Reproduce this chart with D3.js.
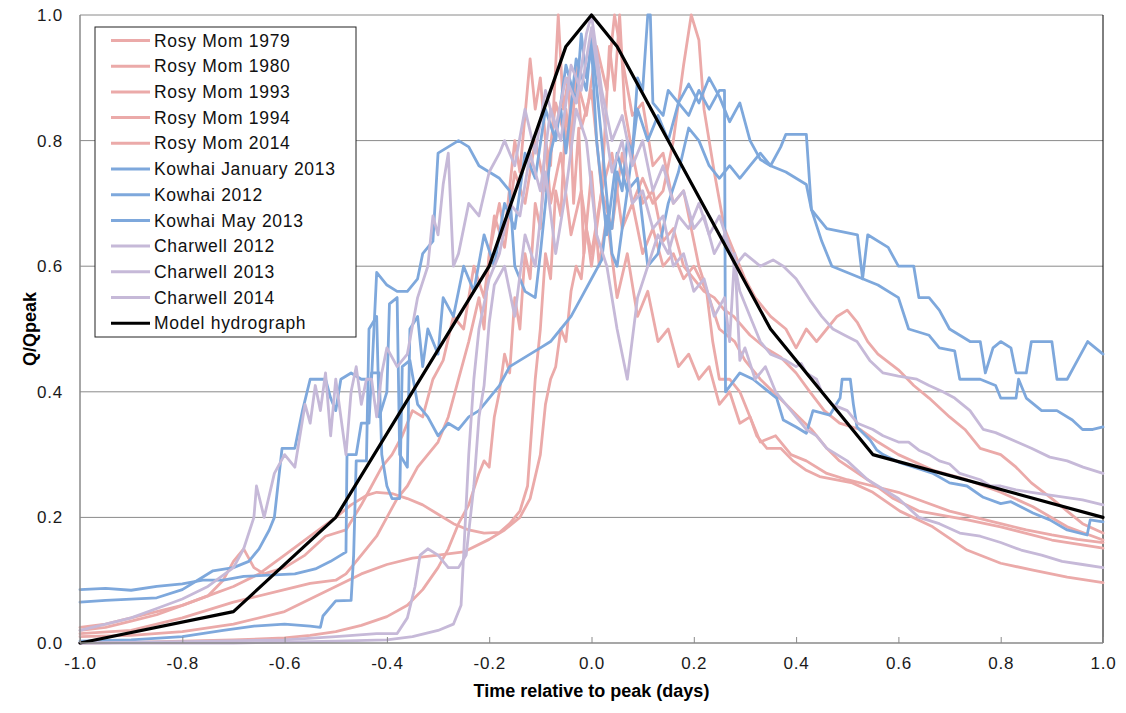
<!DOCTYPE html>
<html>
  <head>
    <meta charset="utf-8" />
    <style>
      body { margin: 0; background: #fff; }
      text { font-family: "Liberation Sans", Arial, sans-serif; }
      .series { fill: none; stroke-linejoin: round; stroke-linecap: round; }
      .grid line { stroke: #8a8a8a; stroke-width: 1; }
    </style>
  </head>
  <body>
    <svg width="1126" height="713"></svg>
    <script src="https://cdn.jsdelivr.net/npm/d3@7"></script>
    <script>
      // ticks
      var xTicks = [-1.0, -0.8, -0.6, -0.4, -0.2, 0.0, 0.2, 0.4, 0.6, 0.8, 1.0];
      var yTicks = [0.0, 0.2, 0.4, 0.6, 0.8, 1.0];

      // Rosy Mom events  [time (days), Q/Qpeak]
      var rosyMom1979 = [[-1,0.02],[-0.95,0.025],[-0.9,0.035],[-0.85,0.045],[-0.8,0.06],[-0.75,0.075],[-0.7,0.09],[-0.65,0.11],[-0.6,0.14],[-0.55,0.17],[-0.5,0.2],[-0.47,0.22],[-0.44,0.235],[-0.42,0.24],[-0.39,0.238],[-0.36,0.23],[-0.33,0.22],[-0.3,0.205],[-0.27,0.19],[-0.24,0.18],[-0.21,0.175],[-0.18,0.176],[-0.16,0.19],[-0.14,0.21],[-0.125,0.25],[-0.11,0.42],[-0.1,0.5],[-0.09,0.62],[-0.08,0.58],[-0.07,0.72],[-0.06,0.68],[-0.05,0.85],[-0.04,0.78],[-0.03,0.92],[-0.02,0.82],[0.0,0.88],[0.02,0.72],[0.04,0.78],[0.06,0.66],[0.08,0.7],[0.1,0.62],[0.12,0.66],[0.14,0.6],[0.16,0.62],[0.18,0.58],[0.2,0.6],[0.225,0.56],[0.237,0.48],[0.25,0.42],[0.27,0.42],[0.29,0.4],[0.31,0.36],[0.323,0.33],[0.343,0.31],[0.37,0.31],[0.394,0.29],[0.42,0.275],[0.446,0.265],[0.51,0.255],[0.55,0.24],[0.603,0.21],[0.667,0.185],[0.734,0.148],[0.8,0.127],[0.863,0.116],[0.93,0.105],[1.0,0.096]];
      var rosyMom1980 = [[-1,0.0],[-0.9,0.001],[-0.8,0.003],[-0.7,0.005],[-0.6,0.008],[-0.55,0.012],[-0.5,0.018],[-0.45,0.028],[-0.4,0.042],[-0.36,0.06],[-0.33,0.085],[-0.3,0.12],[-0.28,0.15],[-0.26,0.19],[-0.24,0.22],[-0.22,0.27],[-0.21,0.29],[-0.2,0.28],[-0.19,0.36],[-0.18,0.4],[-0.17,0.46],[-0.16,0.43],[-0.15,0.55],[-0.14,0.5],[-0.13,0.62],[-0.12,0.58],[-0.11,0.7],[-0.1,0.66],[-0.09,0.8],[-0.08,0.76],[-0.07,0.92],[-0.065,1.0],[-0.055,0.85],[-0.045,0.9],[-0.035,0.7],[-0.025,0.82],[-0.015,0.62],[0.0,0.75],[0.015,0.6],[0.03,0.68],[0.05,0.55],[0.07,0.62],[0.09,0.52],[0.11,0.56],[0.13,0.48],[0.15,0.5],[0.17,0.44],[0.19,0.46],[0.21,0.42],[0.23,0.44],[0.25,0.38],[0.27,0.4],[0.29,0.35],[0.31,0.36],[0.33,0.32],[0.36,0.33],[0.39,0.3],[0.42,0.29],[0.46,0.27],[0.5,0.26],[0.55,0.25],[0.6,0.24],[0.65,0.225],[0.7,0.21],[0.75,0.2],[0.8,0.19],[0.85,0.18],[0.9,0.172],[0.95,0.165],[1.0,0.16]];
      var rosyMom1993 = [[-1,0.01],[-0.9,0.012],[-0.8,0.018],[-0.7,0.03],[-0.6,0.05],[-0.55,0.07],[-0.5,0.09],[-0.45,0.11],[-0.4,0.125],[-0.35,0.135],[-0.3,0.14],[-0.25,0.145],[-0.2,0.165],[-0.17,0.18],[-0.14,0.2],[-0.12,0.23],[-0.1,0.3],[-0.09,0.38],[-0.08,0.42],[-0.07,0.44],[-0.06,0.5],[-0.05,0.48],[-0.04,0.56],[-0.03,0.6],[-0.02,0.58],[-0.01,0.66],[0.0,0.62],[0.02,0.72],[0.04,0.66],[0.06,0.78],[0.08,0.7],[0.1,0.74],[0.12,0.7],[0.14,0.72],[0.16,0.8],[0.18,0.92],[0.195,1.0],[0.21,0.96],[0.22,0.85],[0.24,0.75],[0.26,0.66],[0.28,0.62],[0.3,0.58],[0.32,0.55],[0.35,0.52],[0.38,0.5],[0.4,0.47],[0.42,0.5],[0.44,0.48],[0.46,0.5],[0.48,0.52],[0.5,0.53],[0.52,0.51],[0.54,0.48],[0.56,0.46],[0.6,0.435],[0.63,0.41],[0.66,0.39],[0.7,0.36],[0.73,0.34],[0.76,0.31],[0.8,0.3],[0.83,0.28],[0.86,0.255],[0.9,0.23],[0.93,0.21],[0.96,0.19],[1.0,0.175]];
      var rosyMom1994 = [[-1,0.025],[-0.95,0.03],[-0.9,0.04],[-0.85,0.05],[-0.8,0.06],[-0.75,0.075],[-0.72,0.1],[-0.7,0.13],[-0.68,0.15],[-0.66,0.12],[-0.64,0.11],[-0.6,0.12],[-0.56,0.14],[-0.52,0.17],[-0.48,0.18],[-0.45,0.22],[-0.43,0.25],[-0.41,0.28],[-0.39,0.3],[-0.37,0.33],[-0.35,0.37],[-0.33,0.36],[-0.31,0.42],[-0.29,0.45],[-0.27,0.52],[-0.25,0.5],[-0.23,0.6],[-0.21,0.55],[-0.19,0.68],[-0.17,0.63],[-0.15,0.75],[-0.13,0.7],[-0.11,0.8],[-0.09,0.72],[-0.07,0.86],[-0.05,0.8],[-0.03,0.9],[-0.01,0.84],[0.01,0.95],[0.03,0.88],[0.045,1.0],[0.06,0.93],[0.08,0.84],[0.1,0.86],[0.12,0.76],[0.14,0.78],[0.16,0.7],[0.18,0.72],[0.2,0.64],[0.21,0.6],[0.23,0.55],[0.25,0.5],[0.28,0.48],[0.3,0.45],[0.33,0.42],[0.355,0.4],[0.38,0.38],[0.405,0.36],[0.43,0.34],[0.46,0.31],[0.485,0.29],[0.54,0.26],[0.59,0.23],[0.64,0.21],[0.735,0.196],[0.8,0.185],[0.9,0.164],[1.0,0.151]];
      var rosyMom2014 = [[-1,0.015],[-0.9,0.02],[-0.8,0.04],[-0.7,0.065],[-0.6,0.085],[-0.55,0.095],[-0.5,0.1],[-0.48,0.11],[-0.45,0.14],[-0.42,0.17],[-0.4,0.2],[-0.38,0.23],[-0.36,0.25],[-0.34,0.28],[-0.32,0.3],[-0.3,0.32],[-0.28,0.36],[-0.26,0.42],[-0.24,0.48],[-0.22,0.55],[-0.21,0.5],[-0.2,0.62],[-0.18,0.7],[-0.17,0.65],[-0.15,0.8],[-0.14,0.75],[-0.12,0.93],[-0.11,0.85],[-0.1,0.9],[-0.08,0.7],[-0.06,0.78],[-0.04,0.65],[-0.02,0.72],[0.0,0.6],[0.02,0.72],[0.035,0.95],[0.045,0.88],[0.055,1.0],[0.065,0.85],[0.08,0.78],[0.1,0.7],[0.12,0.72],[0.14,0.64],[0.16,0.66],[0.18,0.6],[0.2,0.58],[0.22,0.56],[0.24,0.55],[0.26,0.53],[0.278,0.52],[0.31,0.49],[0.34,0.47],[0.37,0.455],[0.4,0.43],[0.427,0.4],[0.455,0.37],[0.485,0.35],[0.525,0.34],[0.56,0.32],[0.6,0.3],[0.668,0.275],[0.734,0.26],[0.8,0.24],[0.863,0.217],[0.93,0.185],[1.0,0.164]];

      // Kowhai events
      var kowhaiJan2013 = [[-1,0.085],[-0.95,0.087],[-0.9,0.084],[-0.85,0.09],[-0.8,0.094],[-0.76,0.1],[-0.72,0.1],[-0.68,0.106],[-0.63,0.108],[-0.58,0.11],[-0.54,0.118],[-0.51,0.13],[-0.49,0.14],[-0.48,0.145],[-0.478,0.3],[-0.46,0.3],[-0.45,0.35],[-0.435,0.35],[-0.43,0.43],[-0.415,0.43],[-0.41,0.3],[-0.4,0.25],[-0.39,0.23],[-0.375,0.23],[-0.37,0.44],[-0.355,0.45],[-0.34,0.38],[-0.32,0.36],[-0.3,0.33],[-0.28,0.35],[-0.26,0.34],[-0.24,0.36],[-0.22,0.37],[-0.2,0.39],[-0.18,0.41],[-0.16,0.44],[-0.14,0.45],[-0.12,0.46],[-0.1,0.47],[-0.08,0.48],[-0.06,0.5],[-0.04,0.52],[-0.02,0.55],[0.0,0.58],[0.02,0.61],[0.03,0.68],[0.04,0.66],[0.05,0.75],[0.06,0.72],[0.07,0.8],[0.08,0.78],[0.09,0.9],[0.1,0.88],[0.11,1.0],[0.115,1.0],[0.12,0.86],[0.14,0.84],[0.15,0.88],[0.17,0.86],[0.19,0.89],[0.21,0.86],[0.23,0.9],[0.25,0.87],[0.27,0.83],[0.29,0.86],[0.31,0.8],[0.33,0.77],[0.35,0.76],[0.37,0.79],[0.38,0.81],[0.42,0.81],[0.43,0.69],[0.46,0.66],[0.52,0.65],[0.53,0.58],[0.54,0.65],[0.58,0.63],[0.6,0.6],[0.63,0.6],[0.64,0.55],[0.66,0.55],[0.68,0.53],[0.7,0.5],[0.72,0.49],[0.74,0.48],[0.76,0.48],[0.77,0.43],[0.785,0.47],[0.8,0.48],[0.82,0.47],[0.83,0.43],[0.85,0.43],[0.86,0.48],[0.9,0.48],[0.91,0.42],[0.93,0.42],[0.95,0.45],[0.97,0.48],[0.985,0.47],[1.0,0.46]];
      var kowhai2012 = [[-1,0.065],[-0.95,0.068],[-0.9,0.07],[-0.85,0.072],[-0.8,0.085],[-0.77,0.1],[-0.74,0.115],[-0.7,0.12],[-0.67,0.13],[-0.65,0.15],[-0.63,0.18],[-0.62,0.2],[-0.605,0.31],[-0.58,0.31],[-0.565,0.37],[-0.55,0.42],[-0.52,0.42],[-0.51,0.39],[-0.5,0.37],[-0.49,0.42],[-0.47,0.43],[-0.45,0.42],[-0.43,0.42],[-0.42,0.59],[-0.4,0.57],[-0.38,0.56],[-0.36,0.56],[-0.34,0.58],[-0.33,0.62],[-0.31,0.64],[-0.3,0.78],[-0.28,0.79],[-0.26,0.8],[-0.24,0.79],[-0.22,0.76],[-0.2,0.75],[-0.18,0.74],[-0.16,0.72],[-0.15,0.6],[-0.13,0.56],[-0.11,0.55],[-0.1,0.62],[-0.08,0.78],[-0.06,0.85],[-0.05,0.78],[-0.03,0.93],[-0.01,0.88],[0.0,0.97],[0.02,0.8],[0.04,0.62],[0.05,0.6],[0.07,0.72],[0.09,0.74],[0.11,0.6],[0.13,0.62],[0.15,0.7],[0.17,0.75],[0.19,0.82],[0.21,0.8],[0.23,0.76],[0.25,0.74],[0.27,0.76],[0.29,0.74],[0.31,0.76],[0.33,0.78],[0.35,0.76],[0.38,0.75],[0.42,0.73],[0.43,0.69],[0.45,0.64],[0.47,0.6],[0.5,0.59],[0.53,0.58],[0.56,0.57],[0.6,0.55],[0.62,0.5],[0.66,0.49],[0.68,0.47],[0.71,0.465],[0.72,0.42],[0.76,0.42],[0.79,0.41],[0.8,0.39],[0.83,0.39],[0.835,0.42],[0.85,0.39],[0.88,0.37],[0.91,0.37],[0.94,0.355],[0.96,0.34],[0.98,0.34],[1.0,0.344]];
      var kowhaiMay2013 = [[-1,0.003],[-0.9,0.005],[-0.8,0.01],[-0.72,0.02],[-0.66,0.027],[-0.6,0.03],[-0.55,0.027],[-0.53,0.025],[-0.525,0.043],[-0.5,0.067],[-0.47,0.068],[-0.465,0.14],[-0.46,0.29],[-0.44,0.29],[-0.435,0.5],[-0.42,0.52],[-0.415,0.36],[-0.4,0.4],[-0.395,0.54],[-0.38,0.55],[-0.375,0.3],[-0.36,0.28],[-0.355,0.5],[-0.34,0.52],[-0.33,0.44],[-0.32,0.5],[-0.3,0.46],[-0.29,0.55],[-0.27,0.52],[-0.25,0.6],[-0.23,0.56],[-0.21,0.65],[-0.19,0.6],[-0.17,0.7],[-0.15,0.66],[-0.13,0.78],[-0.11,0.74],[-0.09,0.85],[-0.07,0.8],[-0.05,0.92],[-0.03,0.86],[-0.02,0.97],[-0.01,0.9],[0.0,0.95],[0.01,0.8],[0.03,0.65],[0.05,0.78],[0.07,0.72],[0.09,0.85],[0.11,0.8],[0.13,0.84],[0.15,0.8],[0.17,0.86],[0.19,0.84],[0.21,0.88],[0.23,0.85],[0.25,0.88],[0.26,0.88],[0.262,0.4],[0.29,0.43],[0.316,0.42],[0.362,0.39],[0.375,0.355],[0.4,0.344],[0.42,0.334],[0.433,0.37],[0.466,0.363],[0.486,0.39],[0.49,0.42],[0.506,0.42],[0.512,0.38],[0.519,0.344],[0.545,0.323],[0.558,0.307],[0.57,0.3],[0.603,0.287],[0.668,0.27],[0.7,0.255],[0.734,0.25],[0.766,0.232],[0.8,0.222],[0.82,0.225],[0.863,0.207],[0.896,0.196],[0.93,0.18],[0.969,0.172],[0.975,0.196],[1.0,0.193]];

      // Charwell events
      var charwell2012 = [[-1,0.02],[-0.95,0.03],[-0.9,0.04],[-0.85,0.055],[-0.8,0.07],[-0.75,0.09],[-0.7,0.12],[-0.68,0.15],[-0.66,0.2],[-0.655,0.25],[-0.64,0.2],[-0.62,0.27],[-0.6,0.3],[-0.58,0.28],[-0.56,0.38],[-0.55,0.35],[-0.54,0.41],[-0.53,0.37],[-0.52,0.43],[-0.51,0.33],[-0.5,0.42],[-0.48,0.3],[-0.47,0.4],[-0.46,0.44],[-0.45,0.38],[-0.44,0.42],[-0.43,0.42],[-0.42,0.36],[-0.41,0.43],[-0.4,0.47],[-0.38,0.44],[-0.36,0.46],[-0.34,0.55],[-0.32,0.6],[-0.31,0.68],[-0.3,0.65],[-0.29,0.73],[-0.28,0.78],[-0.27,0.6],[-0.26,0.62],[-0.24,0.7],[-0.22,0.68],[-0.2,0.75],[-0.18,0.78],[-0.17,0.8],[-0.15,0.76],[-0.13,0.85],[-0.11,0.78],[-0.09,0.88],[-0.07,0.82],[-0.05,0.9],[-0.03,0.86],[-0.01,0.97],[0.0,1.0],[0.02,0.88],[0.04,0.8],[0.06,0.84],[0.08,0.76],[0.1,0.8],[0.12,0.72],[0.14,0.76],[0.16,0.7],[0.18,0.72],[0.2,0.66],[0.22,0.68],[0.24,0.62],[0.26,0.65],[0.28,0.6],[0.3,0.62],[0.33,0.6],[0.355,0.61],[0.375,0.6],[0.4,0.58],[0.427,0.546],[0.45,0.52],[0.472,0.5],[0.495,0.49],[0.519,0.48],[0.544,0.45],[0.57,0.43],[0.6,0.425],[0.636,0.42],[0.66,0.41],[0.687,0.4],[0.71,0.39],[0.74,0.37],[0.766,0.34],[0.79,0.335],[0.832,0.32],[0.86,0.31],[0.896,0.296],[0.93,0.29],[0.961,0.28],[1.0,0.27]];
      var charwell2013 = [[-1,0.0],[-0.8,0.002],[-0.6,0.005],[-0.5,0.01],[-0.42,0.015],[-0.38,0.015],[-0.36,0.04],[-0.345,0.09],[-0.335,0.14],[-0.32,0.15],[-0.3,0.14],[-0.28,0.12],[-0.26,0.12],[-0.245,0.14],[-0.23,0.25],[-0.22,0.36],[-0.21,0.41],[-0.2,0.51],[-0.19,0.57],[-0.17,0.6],[-0.15,0.52],[-0.13,0.65],[-0.11,0.6],[-0.09,0.75],[-0.07,0.62],[-0.05,0.72],[-0.03,0.85],[-0.01,0.8],[0.01,0.65],[0.03,0.6],[0.05,0.5],[0.07,0.42],[0.09,0.55],[0.11,0.6],[0.13,0.65],[0.15,0.62],[0.17,0.68],[0.19,0.66],[0.21,0.7],[0.23,0.65],[0.25,0.68],[0.278,0.61],[0.29,0.56],[0.31,0.52],[0.32,0.5],[0.33,0.48],[0.35,0.46],[0.38,0.45],[0.4,0.44],[0.41,0.445],[0.42,0.43],[0.44,0.42],[0.45,0.4],[0.47,0.38],[0.5,0.37],[0.52,0.35],[0.55,0.34],[0.57,0.33],[0.6,0.32],[0.62,0.32],[0.64,0.307],[0.66,0.3],[0.68,0.29],[0.7,0.285],[0.72,0.27],[0.76,0.26],[0.78,0.25],[0.8,0.25],[0.83,0.244],[0.86,0.24],[0.9,0.235],[0.96,0.228],[1.0,0.22]];
      var charwell2014 = [[-1,0.0],[-0.7,0.0],[-0.5,0.003],[-0.4,0.005],[-0.35,0.01],[-0.3,0.02],[-0.27,0.03],[-0.255,0.06],[-0.25,0.14],[-0.24,0.3],[-0.23,0.42],[-0.22,0.5],[-0.2,0.58],[-0.18,0.62],[-0.16,0.7],[-0.14,0.68],[-0.12,0.78],[-0.1,0.72],[-0.08,0.85],[-0.06,0.8],[-0.04,0.92],[-0.02,0.88],[0.0,0.98],[0.02,0.86],[0.04,0.75],[0.06,0.8],[0.08,0.7],[0.1,0.72],[0.12,0.66],[0.14,0.68],[0.16,0.6],[0.18,0.62],[0.2,0.56],[0.22,0.58],[0.24,0.52],[0.26,0.55],[0.27,0.48],[0.28,0.62],[0.29,0.45],[0.3,0.47],[0.32,0.42],[0.34,0.44],[0.36,0.4],[0.38,0.38],[0.4,0.36],[0.42,0.34],[0.44,0.33],[0.46,0.31],[0.5,0.29],[0.54,0.26],[0.58,0.24],[0.6,0.23],[0.64,0.2],[0.68,0.19],[0.72,0.175],[0.76,0.17],[0.8,0.16],[0.84,0.148],[0.88,0.14],[0.92,0.13],[0.96,0.125],[1.0,0.12]];

      // model hydrograph
      var modelHydrograph = [[-1,0.0],[-0.7,0.05],[-0.5,0.2],[-0.2,0.6],[-0.05,0.95],[0.0,1.0],[0.05,0.95],[0.35,0.5],[0.55,0.3],[1.0,0.2]];

      var groupColor = { rosy: "#ebaaa9", kowhai: "#7ea8dc", charwell: "#c6b9d8", model: "#000000" };

      var series = [
        { name: "Rosy Mom 1979", group: "rosy", values: rosyMom1979 },
        { name: "Rosy Mom 1980", group: "rosy", values: rosyMom1980 },
        { name: "Rosy Mom 1993", group: "rosy", values: rosyMom1993 },
        { name: "Rosy Mom 1994", group: "rosy", values: rosyMom1994 },
        { name: "Rosy Mom 2014", group: "rosy", values: rosyMom2014 },
        { name: "Kowhai January 2013", group: "kowhai", values: kowhaiJan2013 },
        { name: "Kowhai 2012", group: "kowhai", values: kowhai2012 },
        { name: "Kowhai May 2013", group: "kowhai", values: kowhaiMay2013 },
        { name: "Charwell 2012", group: "charwell", values: charwell2012 },
        { name: "Charwell 2013", group: "charwell", values: charwell2013 },
        { name: "Charwell 2014", group: "charwell", values: charwell2014 },
        { name: "Model hydrograph", group: "model", values: modelHydrograph }
      ];

      var svg = d3.select("svg");
      var plotLeft = 80, plotRight = 1103, plotTop = 15, plotBottom = 643;

      var x = d3.scaleLinear().domain([-1, 1]).range([plotLeft, plotRight]);
      var y = d3.scaleLinear().domain([0, 1]).range([plotBottom, plotTop]);

      // excel style labels, plain hyphen for minus
      var fmt = function (d) { return d3.format(".1f")(d).replace("\u2212", "-"); };

      // gridlines
      svg.append("g")
        .attr("class", "grid")
        .selectAll("line")
        .data(yTicks.filter(function (d) { return d > 0; }))
        .enter()
        .append("line")
        .attr("x1", plotLeft)
        .attr("x2", plotRight)
        .attr("y1", function (d) { return y(d); })
        .attr("y2", function (d) { return y(d); });

      // right border
      svg.append("line")
        .attr("x1", plotRight).attr("x2", plotRight)
        .attr("y1", plotTop).attr("y2", plotBottom)
        .attr("stroke", "#000").attr("stroke-width", 1);

      var line = d3.line()
        .x(function (d) { return x(d[0]); })
        .y(function (d) { return y(d[1]); });

      svg.append("g")
        .selectAll("path")
        .data(series)
        .enter()
        .append("path")
        .attr("class", "series")
        .attr("stroke", function (d) { return groupColor[d.group]; })
        .attr("stroke-width", function (d) { return d.group == "model" ? 3.2 : 2.8; })
        .attr("d", function (d) { return line(d.values); });

      // axes
      var xAxis = svg.append("g")
        .attr("transform", "translate(0," + plotBottom + ")")
        .call(d3.axisBottom(x).tickValues(xTicks).tickSize(-6).tickPadding(14).tickFormat(fmt));
      var yAxis = svg.append("g")
        .attr("transform", "translate(" + plotLeft + ",0)")
        .call(d3.axisLeft(y).tickValues(yTicks).tickSize(0).tickPadding(17).tickFormat(fmt));

      [xAxis, yAxis].forEach(function (g) {
        g.select(".domain").attr("stroke", "#8a8a8a").attr("stroke-width", 1.5);
        g.selectAll(".tick line").attr("stroke", "#8a8a8a");
        g.selectAll("text")
          .attr("font-family", "Liberation Sans, Arial, sans-serif")
          .attr("font-size", 17)
          .attr("letter-spacing", "0.8px")
          .attr("fill", "#1a1a1a");
      });
      xAxis.select(".domain").attr("d", "M" + plotLeft + ",0H" + plotRight);
      yAxis.select(".domain").attr("d", "M0," + plotTop + "V" + plotBottom);

      // axis titles
      svg.append("text")
        .attr("x", (plotLeft + plotRight) / 2)
        .attr("y", 697)
        .attr("text-anchor", "middle")
        .attr("font-size", 18)
        .attr("font-weight", "bold")
        .text("Time relative to peak (days)");

      svg.append("text")
        .attr("transform", "translate(36,329) rotate(-90)")
        .attr("text-anchor", "middle")
        .attr("font-size", 18)
        .attr("font-weight", "bold")
        .text("Q/Qpeak");

      // legend
      var legend = svg.append("g").attr("transform", "translate(95,27)");
      legend.append("rect")
        .attr("width", 261)
        .attr("height", 310)
        .attr("fill", "#fff")
        .attr("stroke", "#222")
        .attr("stroke-width", 1);

      var item = legend.selectAll("g.item")
        .data(series)
        .enter()
        .append("g")
        .attr("class", "item")
        .attr("transform", function (d, i) { return "translate(0," + (13.5 + i * 25.7) + ")"; });

      item.append("line")
        .attr("x1", 16).attr("x2", 55)
        .attr("stroke", function (d) { return groupColor[d.group]; })
        .attr("stroke-width", 3);

      item.append("text")
        .attr("x", 59)
        .attr("dy", "0.35em")
        .attr("font-size", 17.5)
        .attr("letter-spacing", "0.7px")
        .attr("fill", "#111")
        .text(function (d) { return d.name; });
    </script>
  </body>
</html>
